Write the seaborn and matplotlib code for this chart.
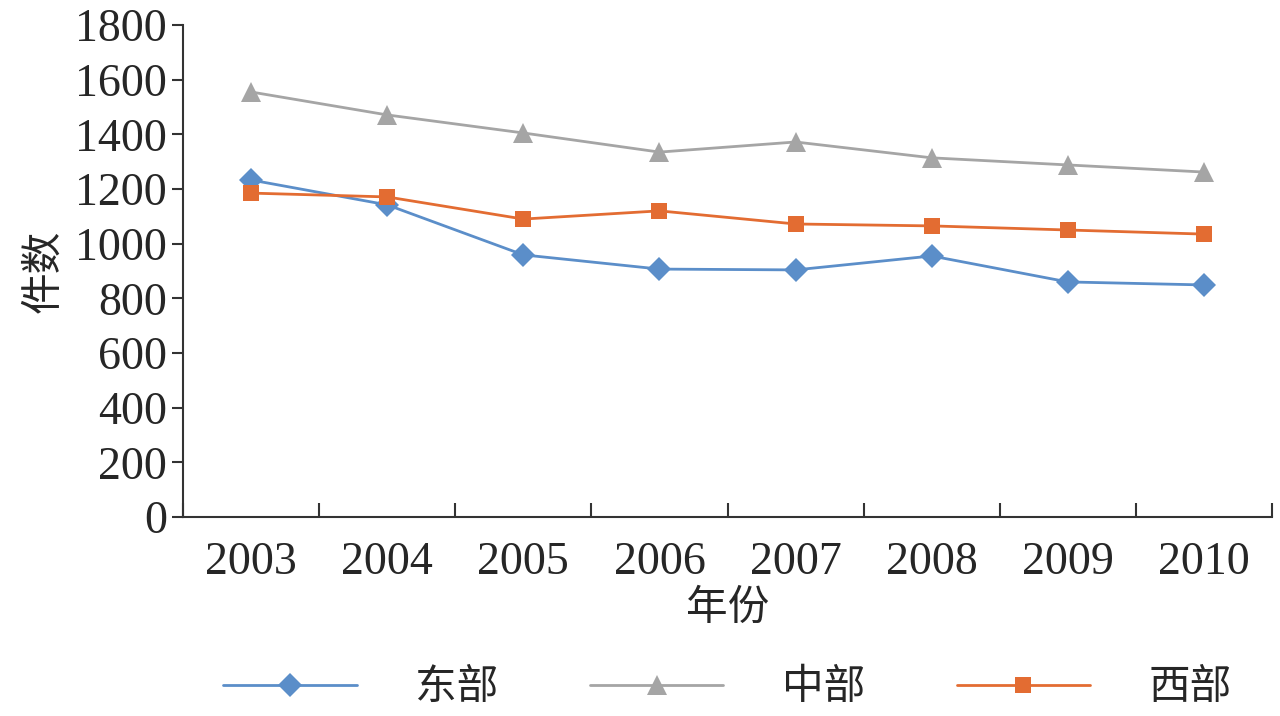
import numpy as np
import pandas as pd
import matplotlib
matplotlib.use('Agg')
import matplotlib.pyplot as plt
import seaborn as sns

years = ['2003', '2004', '2005', '2006', '2007', '2008', '2009', '2010']
east = [1233, 1142, 959, 907, 904, 955, 860, 849]
central = [1555, 1471, 1405, 1335, 1372, 1314, 1288, 1262]
west = [1185, 1171, 1090, 1120, 1072, 1065, 1050, 1035]
series = ['东部', '中部', '西部']

sns.set_style('white')
plt.rcParams['font.family'] = ['Liberation Serif', 'Noto Sans CJK SC']

df = pd.DataFrame({'年份': list(range(len(years))) * 3,
                   '件数': east + central + west,
                   'region': np.repeat(series, len(years))})

palette = {'东部': '#5b8ec9', '中部': '#a5a5a5', '西部': '#e36c32'}
markers = {'东部': 'D', '中部': '^', '西部': 's'}
sizes = {'东部': 12, '中部': 14, '西部': 11}

fig = plt.figure(figsize=(12.8, 7.16), dpi=100)
ax = fig.add_axes([183/1280, 1-517/716, (1272-183)/1280, (517-25)/716])
for name in series:
    d = df[df.region == name]
    sns.lineplot(ax=ax, data=d, x='年份', y='件数', color=palette[name],
                 marker=markers[name], markersize=sizes[name], markeredgewidth=0,
                 linewidth=2, label=name)

ax.set_xlim(-0.5, len(years) - 0.5)
ax.set_ylim(0, 1800)
ax.set_yticks(range(0, 1801, 200))
ax.set_xticks(np.arange(-0.5, len(years)), minor=False)
ax.set_xticklabels([])
ax.set_xticks(range(len(years)), minor=True)
ax.set_xticklabels(years, minor=True)
ax.tick_params(axis='x', which='major', bottom=True, direction='in', length=10, width=1.5, color='#333')
ax.tick_params(axis='x', which='minor', bottom=False, length=0, labelsize=33, pad=18)
ax.tick_params(axis='y', left=True, direction='out', length=8, width=1.5, color='#333', labelsize=33)
sns.despine(ax=ax)
for s in ['left', 'bottom']:
    ax.spines[s].set_color('#333')
    ax.spines[s].set_linewidth(1.5)
ax.set_xlabel('年份', fontsize=30, labelpad=4)
ax.set_ylabel('件数', fontsize=30, labelpad=8)
ax.legend(loc='center', bbox_to_anchor=(0.5, -0.35), ncol=3, frameon=False,
          fontsize=30, handlelength=3.2, handletextpad=1.4, columnspacing=2.2)
fig.savefig('out.png')
